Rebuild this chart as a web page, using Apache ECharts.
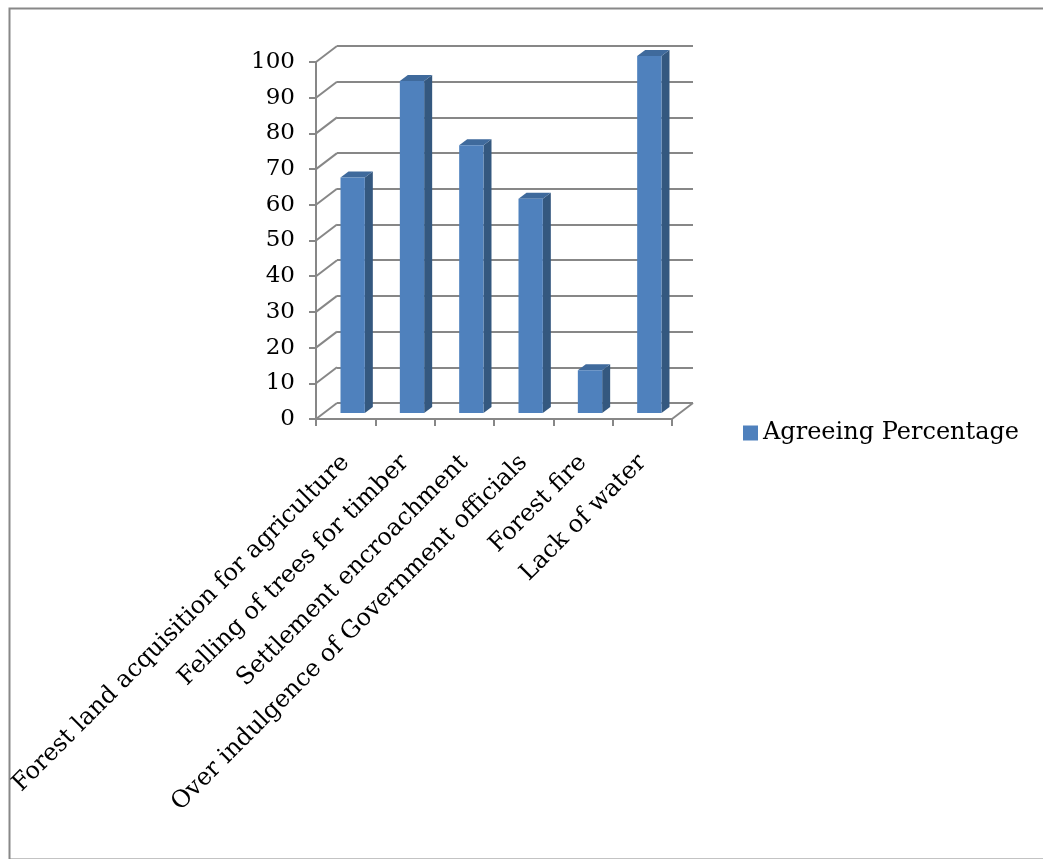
<!DOCTYPE html>
<html>
<head>
<meta charset="utf-8">
<script src="https://cdn.jsdelivr.net/npm/echarts@6/dist/echarts.min.js"></script>
<style>
  html, body { margin: 0; padding: 0; background: #fff; }
  #chart { width: 1043px; height: 859px; }
</style>
</head>
<body>
<div id="chart"></div>
<script>
const categories = [
  'Forest land acquisition for agriculture',
  'Felling of trees for timber',
  'Settlement encroachment',
  'Over indulgence of Government officials',
  'Forest fire',
  'Lack of water'
]
const agreeing = [66, 93, 75, 60, 12, 100]
const yTicks = [0, 10, 20, 30, 40, 50, 60, 70, 80, 90, 100]

const FONT = 'DejaVu Serif'
const GRID_COLOR = '#878787'
// depth of the 3d box (back wall offset from the front plane)
const DEPTH = [21, -16]
// bars sit a little behind the front plane
const BAR_SHIFT = [7, -6]
const BAR_DEPTH = [8, -6]

const chart = echarts.init(document.getElementById('chart'))

function renderWalls(params, api) {
  const cs = params.coordSys
  const v = api.value(0)
  const y = api.coord([0, v])[1]
  const children = [{
    type: 'line',
    shape: { x1: cs.x, y1: y, x2: cs.x + DEPTH[0], y2: y + DEPTH[1] },
    style: { stroke: GRID_COLOR, lineWidth: 2 }
  }]
  if (v === 0) {
    const xr = cs.x + cs.width
    children.push({
      type: 'line',
      shape: { x1: xr, y1: y, x2: xr + DEPTH[0], y2: y + DEPTH[1] },
      style: { stroke: GRID_COLOR, lineWidth: 2 }
    })
  }
  return { type: 'group', children }
}

function renderBar(params, api) {
  const i = api.value(0)
  const top = api.coord([i, api.value(1)])
  const base = api.coord([i, 0])
  const w = api.size([1, 0])[0] * 0.41
  const x0 = top[0] - w / 2 + BAR_SHIFT[0]
  const x1 = x0 + w
  const yt = top[1] + BAR_SHIFT[1]
  const yb = base[1] + BAR_SHIFT[1]
  const dx = BAR_DEPTH[0], dy = BAR_DEPTH[1]
  return {
    type: 'group',
    children: [
      {
        type: 'polygon',
        shape: { points: [[x1, yt], [x1 + dx, yt + dy], [x1 + dx, yb + dy], [x1, yb]] },
        style: { fill: '#34587f' }
      },
      {
        type: 'polygon',
        shape: { points: [[x0, yt], [x0 + dx, yt + dy], [x1 + dx, yt + dy], [x1, yt]] },
        style: { fill: '#3f6a9c' }
      },
      {
        type: 'rect',
        shape: { x: x0, y: yt, width: w, height: yb - yt },
        style: { fill: '#4f81bd' }
      }
    ]
  }
}

chart.setOption({
  animation: false,
  backgroundColor: '#fff',
  graphic: [{
    type: 'rect',
    left: 7,
    top: 6,
    shape: { width: 1045, height: 851 },
    style: { fill: 'none', stroke: '#888', lineWidth: 2 },
    silent: true
  }],
  legend: {
    data: ['Agreeing Percentage'],
    left: 743,
    top: 421,
    padding: 0,
    icon: 'rect',
    itemWidth: 15,
    itemHeight: 15,
    textStyle: { fontFamily: FONT, fontSize: 24, color: '#000' }
  },
  grid: [
    { left: 316, top: 62, width: 356, height: 357 },
    { left: 316 + DEPTH[0], top: 62 + DEPTH[1], width: 356, height: 357 }
  ],
  xAxis: [
    {
      type: 'category',
      gridIndex: 0,
      data: categories,
      axisLine: { lineStyle: { color: GRID_COLOR, width: 2 } },
      axisTick: { show: true, length: 7, interval: 0, lineStyle: { color: GRID_COLOR, width: 2 } },
      axisLabel: {
        interval: 0,
        rotate: 45,
        margin: 40,
        fontFamily: FONT,
        fontSize: 24,
        color: '#000'
      }
    },
    {
      type: 'category',
      gridIndex: 1,
      data: categories,
      show: false
    }
  ],
  yAxis: [
    {
      type: 'value',
      gridIndex: 0,
      min: 0,
      max: 100,
      interval: 10,
      axisLine: { show: true, lineStyle: { color: GRID_COLOR, width: 2 } },
      axisTick: { show: true, length: 7, lineStyle: { color: GRID_COLOR, width: 2 } },
      splitLine: { show: false },
      axisLabel: { margin: 21, fontFamily: FONT, fontSize: 23, color: '#000' }
    },
    {
      type: 'value',
      gridIndex: 1,
      min: 0,
      max: 100,
      interval: 10,
      axisLine: { show: false },
      axisTick: { show: false },
      axisLabel: { show: false },
      splitLine: { show: true, lineStyle: { color: GRID_COLOR, width: 2 } }
    }
  ],
  series: [
    {
      type: 'custom',
      name: 'walls',
      xAxisIndex: 0,
      yAxisIndex: 0,
      silent: true,
      renderItem: renderWalls,
      data: yTicks.map(v => [v]),
      encode: { y: 0 },
      z: 1
    },
    {
      type: 'custom',
      name: 'Agreeing Percentage',
      xAxisIndex: 0,
      yAxisIndex: 0,
      itemStyle: { color: '#4f81bd' },
      renderItem: renderBar,
      data: agreeing.map((v, i) => [i, v]),
      encode: { x: 0, y: 1 },
      z: 3
    }
  ]
})
</script>
</body>
</html>
